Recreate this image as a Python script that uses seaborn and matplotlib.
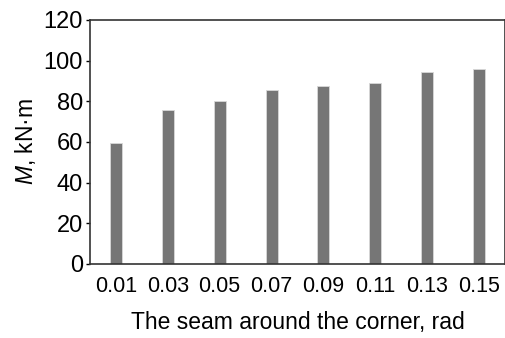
import numpy as np
import pandas as pd
import matplotlib
matplotlib.use("Agg")
import matplotlib.pyplot as plt
import seaborn as sns

# data
angles = ["0.01", "0.03", "0.05", "0.07", "0.09", "0.11", "0.13", "0.15"]
moment = [59.4, 75.7, 80.2, 85.6, 87.5, 89.2, 94.4, 95.8]
yticks = [0, 20, 40, 60, 80, 100, 120]

sns.set_style("ticks")
plt.rcParams['font.family'] = ['Liberation Sans', 'DejaVu Sans']
plt.rcParams['mathtext.fontset'] = 'custom'
plt.rcParams['mathtext.it'] = 'Liberation Sans:italic'
plt.rcParams['mathtext.rm'] = 'Liberation Sans'
plt.rcParams['text.color'] = 'black'
plt.rcParams['axes.labelcolor'] = 'black'
plt.rcParams['xtick.color'] = 'black'
plt.rcParams['ytick.color'] = 'black'

df = pd.DataFrame({"angle": angles, "M": moment})

fig = plt.figure(figsize=(5.06, 3.38), dpi=100)
ax = fig.add_axes([90/506, 1-264/338, 415/506, 244/338])
sns.barplot(data=df, x="angle", y="M", color="#767676", saturation=1,
            width=0.23, edgecolor="#d8d8d8", linewidth=0.6, ax=ax)

ax.set_ylim(0, 120)
ax.set_xlim(-0.5, 7.5)
ax.set_yticks(yticks)
ax.tick_params(axis="y", labelsize=17, length=3, width=1, pad=2)
ax.tick_params(axis="x", labelsize=15.5, length=0, pad=9)
for s in ax.spines.values():
    s.set_visible(True)
    s.set_color("#333333")
    s.set_linewidth(1.2)

ax.set_ylabel(r"$M$, kN·m", fontsize=16.5, labelpad=4)
ax.set_xlabel("The seam around the corner, rad", fontsize=16.5, labelpad=10)

fig.savefig("out.png", dpi=100)
